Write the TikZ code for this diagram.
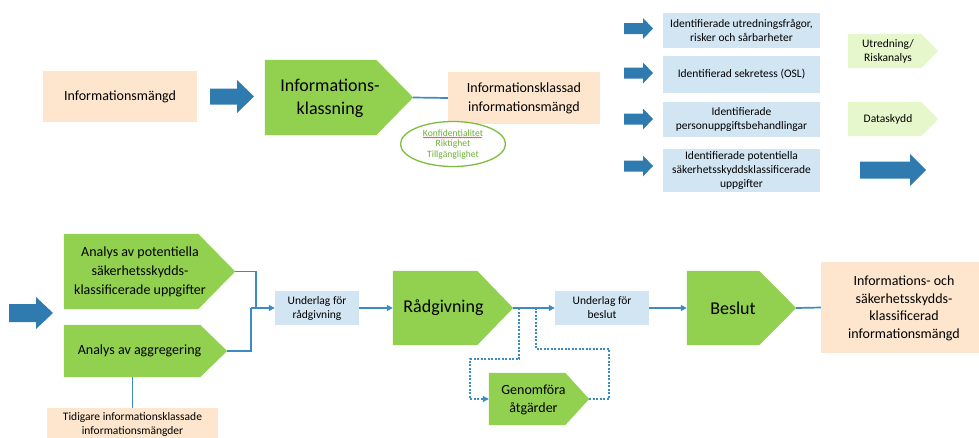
\documentclass[tikz,border=0pt]{standalone}
\usepackage{fontspec}
\setmainfont{Carlito}
\usetikzlibrary{arrows.meta,calc,decorations.pathmorphing,shapes.geometric}
\definecolor{peach}{HTML}{FDE6CD}
\definecolor{pgreen}{HTML}{92D050}
\definecolor{lblue}{HTML}{D2E5F3}
\definecolor{lgreen}{HTML}{E6F7CB}
\definecolor{ablue}{HTML}{2F7BAF}
\definecolor{cblue}{HTML}{3B8BC6}
\definecolor{egreen}{HTML}{7DBE3F}
\definecolor{tgreen}{HTML}{6FB03A}
\newcommand\pentfill[3]{\fill[#3] (#1.north west) -- ($(#1.north east)+(-#2,0)$) -- (#1.east) -- ($(#1.south east)+(-#2,0)$) -- (#1.south west) -- cycle;}
\newcommand\blockarrow[6]{\fill[ablue] (#1,{#3-#5}) -- (#4,{#3-#5}) -- (#4,{#3-#6}) -- (#2,#3) -- (#4,{#3+#6}) -- (#4,{#3+#5}) -- (#1,{#3+#5}) -- cycle;}
\tikzset{
  rectnode/.style={inner sep=0pt, align=center, text=black},
  fL/.style={font=\fontsize{18}{23}\selectfont, align=center, inner sep=0pt},
  fM/.style={font=\fontsize{14}{19}\selectfont, align=center, inner sep=0pt},
  fS/.style={font=\fontsize{11.5}{14}\selectfont, align=center, inner sep=0pt},
  fT/.style={font=\fontsize{11.5}{14}\selectfont, align=center, inner sep=0pt},
  conn/.style={draw=cblue, line width=1.7pt},
  arr/.style={-{Triangle[length=6pt,width=6pt]}},
  dconn/.style={draw=cblue, line width=1.1pt, dash pattern=on 2pt off 1.5pt},
}
\begin{document}
\begin{tikzpicture}[x=1pt,y=-1pt]
\useasboundingbox (0,0) rectangle (979,437);
% ---------- top row ----------
\node[rectnode, fM, fill=peach, minimum width=154pt, minimum height=51pt] (infm) at (120,96.5) {Informationsmängd};
\blockarrow{210}{254}{96.5}{237}{8}{16.5}
\node[rectnode, minimum width=148pt, minimum height=75pt] (ikl) at (339,97.5) {};
\pentfill{ikl}{37}{pgreen}
\node[fL] (iklt) at (330,98.5) {Informations-\\klassning};
\node[rectnode, fM, fill=peach, minimum width=152pt, minimum height=52pt] (ikm) at (524,98) {Informationsklassad\\informationsmängd};
\draw[conn] (ikl.east) -- (ikm.west);
\node[ellipse, draw=egreen, line width=1.3pt, fill=white, minimum width=105pt, minimum height=45pt, inner sep=0pt, text=tgreen, font=\fontsize{9.6}{10.5}\selectfont, align=center] (ell) at (453,144) {Konfidentialitet\\Riktighet\\Tillgänglighet};
\draw[red, line width=0.4pt, decorate, decoration={snake, amplitude=0.5pt, segment length=2pt}] ($(ell.center)+(-30,-6.5)$) -- ($(ell.center)+(29,-6.5)$);
% ---------- top right ----------
\blockarrow{624}{653}{28.5}{643}{5.5}{10.5}
\blockarrow{624}{653}{73}{643}{5.5}{10.5}
\blockarrow{624}{653}{119}{643}{5.5}{10.5}
\blockarrow{624}{653}{166}{643}{5.5}{10.5}
\node[rectnode, fS, fill=lblue, minimum width=157pt, minimum height=35pt] (b1) at (741.5,30.5) {Identifierade utredningsfrågor,\\risker och sårbarheter};
\node[rectnode, fS, fill=lblue, minimum width=157pt, minimum height=37pt] (b2) at (741.5,74.5) {Identifierad sekretess (OSL)};
\node[rectnode, fS, fill=lblue, minimum width=157pt, minimum height=35pt] (b3) at (741.5,119.5) {Identifierade\\personuppgiftsbehandlingar};
\node[rectnode, fS, fill=lblue, minimum width=157pt, minimum height=43pt] (b4) at (741.5,170.5) {Identifierade potentiella\\säkerhetsskyddsklassificerade\\uppgifter};
\node[rectnode, minimum width=90pt, minimum height=34pt] (utr) at (893,51) {};
\pentfill{utr}{17}{lgreen}
\node[fS] (utrt) at (888,51) {Utredning/\\Riskanalys};
\node[rectnode, minimum width=90pt, minimum height=34pt] (dat) at (893,119) {};
\pentfill{dat}{17}{lgreen}
\node[fS] (datt) at (888,119) {Dataskydd};
\blockarrow{860}{926}{170}{910}{8.5}{16}
% ---------- bottom row ----------
\blockarrow{9}{53}{313}{36}{9}{16}
\node[rectnode, minimum width=171pt, minimum height=75pt] (apt) at (149.5,271.5) {};
\pentfill{apt}{37}{pgreen}
\node[fM] (aptt) at (140,272) {Analys av potentiella\\säkerhetsskydds-\\klassificerade uppgifter};
\node[rectnode, minimum width=163pt, minimum height=52pt] (aag) at (145.5,351) {};
\pentfill{aag}{27}{pgreen}
\node[fM] (aagt) at (139.5,351) {Analys av aggregering};
\node[rectnode, fT, fill=peach, minimum width=171pt, minimum height=32pt] (tid) at (132.5,424) {Tidigare informationsklassade\\informationsmängder};
\draw[conn] (aag.south -| tid.north) -- (tid.north);
\node[rectnode, fS, fill=lblue, minimum width=84pt, minimum height=34pt] (ufr) at (317,308) {Underlag för\\rådgivning};
\coordinate (j1) at (256,308);
\coordinate (j2) at (251,308);
\draw[conn] (apt.east) -| (j1);
\draw[conn] (aag.east) -| (j2);
\draw[conn, arr] (j2) -- (ufr.west);
\node[rectnode, minimum width=120pt, minimum height=74pt] (rad) at (453,308) {};
\pentfill{rad}{36}{pgreen}
\node[fL] (radt) at (443.5,308) {Rådgivning};
\draw[conn, arr] (ufr.east) -- (rad.west);
\node[rectnode, fS, fill=lblue, minimum width=94pt, minimum height=34pt] (ufb) at (602,308) {Underlag för\\beslut};
\draw[conn, arr] (rad.east) -- (ufb.west);
\node[rectnode, minimum width=109pt, minimum height=74pt] (bes) at (741.5,308) {};
\pentfill{bes}{37}{pgreen}
\node[fL] (best) at (733,308) {Beslut};
\draw[conn, arr] (ufb.east) -- (bes.west);
\node[rectnode, fill=peach, minimum width=158pt, minimum height=91pt] (fin) at (900,307.5) {};
\node[rectnode, font=\fontsize{14}{17.5}\selectfont] (fint) at (904,308.5) {Informations- och\\säkerhetsskydds-\\klassificerad\\informationsmängd};
\draw[conn] (bes.east) -- (fin.west);
\node[rectnode, minimum width=100pt, minimum height=52pt] (gen) at (539,399) {};
\pentfill{gen}{24}{pgreen}
\node[fM, font=\fontsize{14}{18}\selectfont] (gent) at (533.5,400) {Genomföra\\åtgärder};
\coordinate (d1) at (519,308);
\coordinate (d2) at (536,308);
\draw[dconn, arr] (d1) |- (470,359) |- (gen.west);
\draw[dconn] (gen.east) -| (609,349) -| (d2);
\end{tikzpicture}
\end{document}
